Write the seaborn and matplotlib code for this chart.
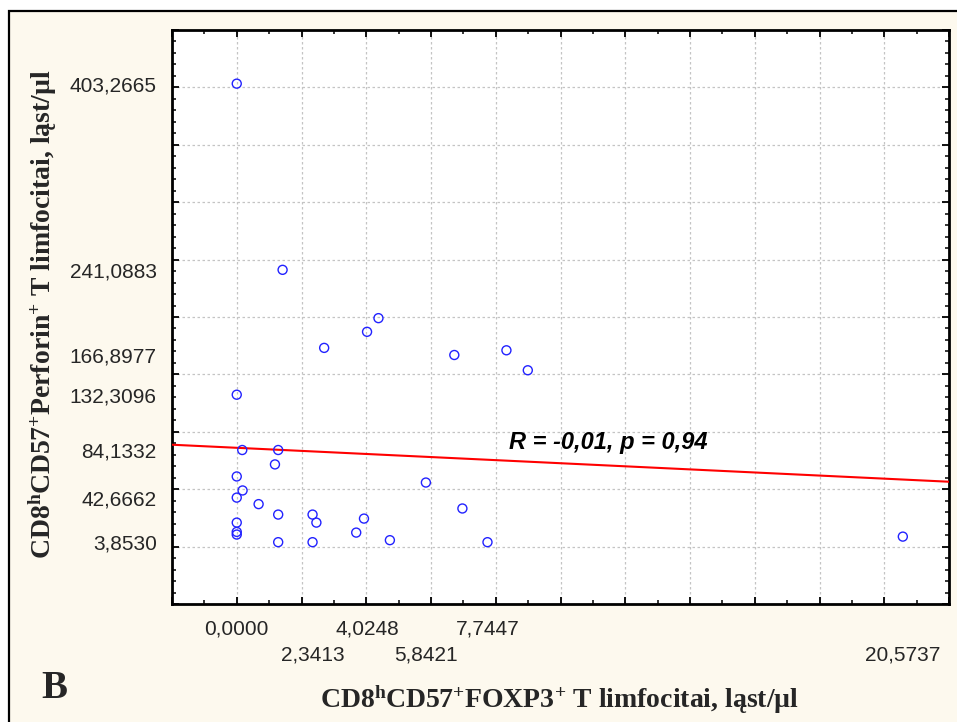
import numpy as np
import pandas as pd
import matplotlib
matplotlib.use("Agg")
import matplotlib.pyplot as plt
from matplotlib.patches import Rectangle
from matplotlib.ticker import MultipleLocator
import seaborn as sns

# ---- data ----
foxp3 = [0.0, 1.416, 2.70, 4.0248, 4.377, 6.72, 8.33, 8.99, 0.0, 0.17,
         1.28, 1.18, 0.0, 0.18, 0.0, 0.675, 1.28, 2.3413, 2.46, 0.0,
         0.0, 0.0, 3.93, 3.69, 4.73, 1.28, 2.3413, 5.8421, 6.97, 7.7447,
         20.5737]
perforin = [403.2665, 241.0883, 173.1, 187.1, 199.0, 166.8977, 171.0, 153.6, 132.3096, 84.1332,
            84.1332, 71.6, 61.1, 48.9, 42.6662, 37.0, 27.9, 27.9, 20.9, 20.9,
            12.8, 10.5, 24.4, 12.2, 5.6, 3.853, 3.853, 55.8, 33.2, 3.853,
            8.7]
x_tick_values = [0.0, 2.3413, 4.0248, 5.8421, 7.7447, 20.5737]
y_tick_values = [3.8530, 42.6662, 84.1332, 132.3096, 166.8977, 241.0883, 403.2665]
annotation = "R = -0,01, p = 0,94"
annot_x, annot_y = 8.4, 91.0
x_limits = (-2, 22)
y_limits = (-50, 450)

df = pd.DataFrame({"x": foxp3, "y": perforin})

sns.set_style("white")
plt.rcParams["font.family"] = ["Liberation Sans", "DejaVu Sans"]
plt.rcParams["mathtext.fontset"] = "custom"
plt.rcParams["mathtext.rm"] = "Liberation Serif:bold"
plt.rcParams["mathtext.bf"] = "Liberation Serif:bold"
plt.rcParams["mathtext.it"] = "Liberation Serif:bold"

cream = "#FDF9EE"
fig = plt.figure(figsize=(9.57, 7.22), dpi=100, facecolor="white")
frame = Rectangle((9 / 957, -0.05), 1.1, 1 - 11 / 722 + 0.05, transform=fig.transFigure,
                  facecolor=cream, edgecolor="black", linewidth=1.6, zorder=-10)
fig.patches.append(frame)

ax = fig.add_axes([172 / 957, 1 - 604 / 722, (949 - 172) / 957, (604 - 30) / 722])
ax.set_facecolor("white")
ax.set_xlim(*x_limits)
ax.set_ylim(*y_limits)

sns.regplot(data=df, x="x", y="y", ax=ax, scatter=False, ci=None, truncate=False,
            line_kws=dict(color="#FF0000", linewidth=1.5, zorder=3))
sns.scatterplot(data=df, x="x", y="y", ax=ax, s=42, facecolor="none",
                edgecolor="#2222FF", linewidth=1.0, zorder=4)
ax.set_xlim(*x_limits)
ax.set_ylim(*y_limits)

# grid / ticks
ax.xaxis.set_major_locator(MultipleLocator(2))
ax.xaxis.set_minor_locator(MultipleLocator(1))
ax.yaxis.set_major_locator(MultipleLocator(50))
ax.yaxis.set_minor_locator(MultipleLocator(10))
ax.grid(True, which="major", color="#C4C4C4", linestyle=(0, (2, 2)), linewidth=0.9)
ax.tick_params(which="both", direction="in", top=True, right=True, bottom=True, left=True,
               labelbottom=False, labelleft=False, color="black")
ax.tick_params(which="major", length=5, width=1.3)
ax.tick_params(which="minor", length=3, width=1.1)
for sp in ax.spines.values():
    sp.set_color("black")
    sp.set_linewidth(2.0)
ax.set_xlabel("")
ax.set_ylabel("")

# value tick labels through secondary axes (two staggered rows on x)
def fmt(v):
    return f"{v:.4f}".replace(".", ",")

row1 = x_tick_values[0::2]
row2 = x_tick_values[1::2]
secx1 = ax.secondary_xaxis("bottom")
secx1.set_xticks(row1, [fmt(v) for v in row1])
secx1.tick_params(length=0, pad=11, labelsize=15)
secx1.spines["bottom"].set_visible(False)

secx2 = ax.secondary_xaxis("bottom")
secx2.set_xticks(row2, [fmt(v) for v in row2])
secx2.tick_params(length=0, pad=30, labelsize=15)
secx2.spines["bottom"].set_visible(False)

secy = ax.secondary_yaxis("left")
secy.set_yticks(y_tick_values, [fmt(v) for v in y_tick_values])
secy.tick_params(length=0, pad=11, labelsize=15)
secy.spines["left"].set_visible(False)

ax.text(annot_x, annot_y, annotation, fontsize=17, fontweight="bold", fontstyle="italic",
        ha="left", va="center", color="black", zorder=5)

# axis titles
fig.text(560 / 957, 1 - 700 / 722,
         r"CD8$^{\mathrm{h}}$CD57$^{\mathrm{+}}$FOXP3$^{\mathrm{+}}$ T limfocitai, ląst/µl",
         family="Liberation Serif", fontweight="bold", fontsize=20, ha="center", va="center")
fig.text(43 / 957, 1 - 314 / 722,
         r"CD8$^{\mathrm{h}}$CD57$^{\mathrm{+}}$Perforin$^{\mathrm{+}}$ T limfocitai, ląst/µl",
         family="Liberation Serif", fontweight="bold", fontsize=20, ha="center", va="center",
         rotation=90)
fig.text(54 / 957, 1 - 688 / 722, "B", family="Liberation Serif", fontweight="bold",
         fontsize=28, ha="center", va="center")

fig.savefig("out.png", dpi=100, facecolor="white")
